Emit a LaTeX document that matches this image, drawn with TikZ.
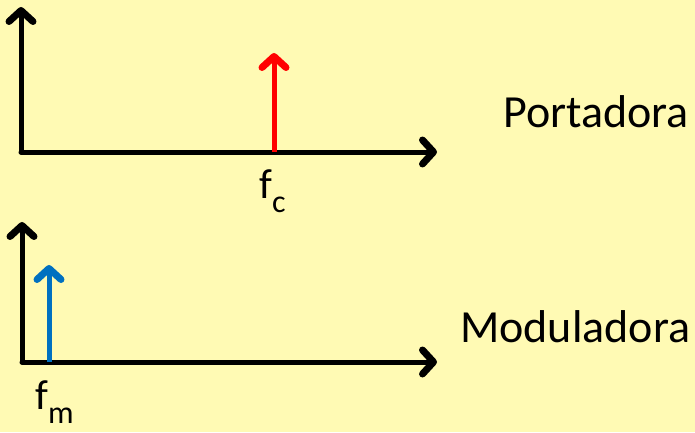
\documentclass[tikz,border=0pt]{standalone}
\usepackage{fontspec}
\setmainfont{Carlito}
\usepackage{tikz}
\usetikzlibrary{arrows.meta}

\definecolor{bgyellow}{HTML}{FFFAB4}
\definecolor{modblue}{HTML}{0070C0}

\newcommand{\freqsub}[1]{\raisebox{-14pt}{\fontsize{32}{34}\selectfont #1}}

\begin{document}
\begin{tikzpicture}[
    x=1pt, y=1pt,
    >={Straight Barb[length=11pt, width=24pt, line width=7pt, round]},
    axisline/.style={->, line width=5pt, black, line cap=round},
    spike/.style={->, line width=5pt, line cap=butt},
    freqlabel/.style={font=\fontsize{42}{46}\selectfont, inner sep=0pt, anchor=base west},
    signame/.style={font=\fontsize{46}{50}\selectfont, inner sep=0pt, anchor=base west}
]

% Background
\fill[bgyellow] (0,0) rectangle (695,432);
\useasboundingbox (0,0) rectangle (695,432);

% Carrier spectrum
\coordinate (o1) at (21,280);
\coordinate (y1) at (21,425);
\coordinate (x1) at (437,280);
\coordinate (fc) at (274,280);
\coordinate (fctop) at (274,379);
\draw[axisline] (o1) -- (y1);
\draw[axisline] (o1) -- (x1);
\draw[spike, red] (fc) -- (fctop);
\node[freqlabel] (fclabel) at (259,234) {f\freqsub{c}};
\node[signame] (portadora) at (503,305) {Portadora};

% Modulating spectrum
\coordinate (o2) at (22,70);
\coordinate (y2) at (22,210);
\coordinate (x2) at (437,70);
\coordinate (fm) at (49,70);
\coordinate (fmtop) at (49,167);
\draw[axisline] (o2) -- (y2);
\draw[axisline] (o2) -- (x2);
\draw[spike, modblue] (fm) -- (fmtop);
\node[freqlabel] (fmlabel) at (35,23) {f\freqsub{m}};
\node[signame] (moduladora) at (460,90) {Moduladora};

\end{tikzpicture}
\end{document}
